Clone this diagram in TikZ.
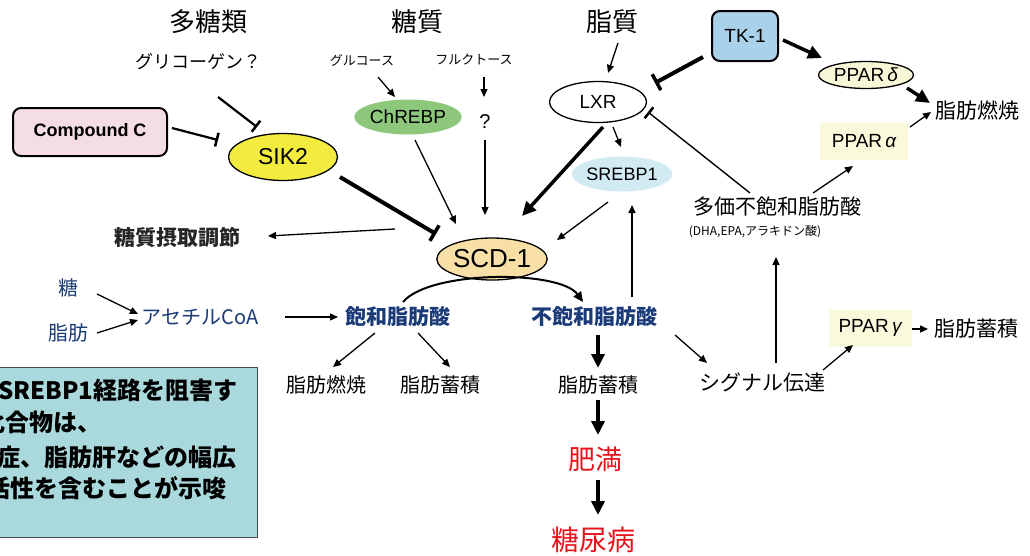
\documentclass[tikz,border=0pt]{standalone}
\usepackage{fontspec}
\setmainfont{Noto Sans CJK JP}
\newfontfamily\arial{Liberation Sans}
\usetikzlibrary{arrows.meta,shapes.geometric,calc}
\newcommand\fz[1]{\fontsize{#1}{#1}\selectfont}
\definecolor{navy}{HTML}{1A3A78}
\definecolor{redtxt}{HTML}{E8141C}
\definecolor{pinkfill}{HTML}{F4DDE6}
\definecolor{sikfill}{HTML}{F3EC3E}
\definecolor{chfill}{HTML}{8CC77C}
\definecolor{srfill}{HTML}{D2EBF3}
\definecolor{tkfill}{HTML}{A9D1EA}
\definecolor{ppfill}{HTML}{F7F6D6}
\definecolor{hlfill}{HTML}{FBF9DC}
\definecolor{scdfill}{HTML}{F8DFA6}
\definecolor{boxfill}{HTML}{A9D9DC}
\begin{document}
\begin{tikzpicture}[x=1pt,y=-1pt,
  lab/.style={inner sep=0pt},
  blue/.style={inner sep=0pt,text=navy},
  ell/.style={ellipse,inner sep=0pt,draw=black,line width=1.3pt},
  ar/.style={-{Triangle[length=8pt,width=7pt]},line width=1.3pt},
  mar/.style={-{Triangle[length=10pt,width=9pt]},line width=2pt},
  tar/.style={-{Triangle[length=14pt,width=13pt]},line width=3.5pt},
  inh/.style={-{Bar[width=14pt,line width=2.5pt]},line width=2.2pt},
  tinh/.style={-{Bar[width=18pt,line width=3.5pt]},line width=4pt}]
\useasboundingbox (0,0) rectangle (1030,555);
\fill[white] (0,0) rectangle (1030,555);

% bottom-left box
\begin{scope}
\clip (0,0) rectangle (1030,555);
\draw[fill=boxfill,draw=black!70,line width=1pt] (-10,367) rectangle (257,537);
\node[lab,anchor=west,font=\fz{24}\bfseries] (b1) at (-2,390) {SREBP1経路を阻害す};
\node[lab,anchor=west,font=\fz{24}\bfseries] (b2) at (-19,422) {化合物は、};
\node[lab,anchor=west,font=\fz{24}\bfseries] (b3) at (-4,457) {症、脂肪肝などの幅広};
\node[lab,anchor=west,font=\fz{24}\bfseries] (b4) at (-14,488) {活性を含むことが示唆};
\end{scope}

% nodes
\node[lab,font=\fz{26}] (polys) at (208,22) {多糖類};
\node[lab,font=\fz{18}] (glyc) at (198,62) {グリコーゲン？};
\node[draw=black,line width=2pt,rounded corners=8pt,fill=pinkfill,minimum width=154pt,minimum height=48pt,inner sep=0pt,font=\arial\bfseries\fz{18}] (cpd) at (90,132) {Compound C};
\node[ell,fill=sikfill,minimum width=109pt,minimum height=47pt,font=\arial\fz{23}] (sik2) at (283,157) {SIK2};
\node[lab,font=\fz{26}] (sugar) at (417,22) {糖質};
\node[lab,font=\fz{13}] (glu) at (362,60) {グルコース};
\node[lab,font=\fz{13}] (fru) at (474,60) {フルクトース};
\node[ellipse,inner sep=0pt,fill=chfill,minimum width=95pt,minimum height=35pt,font=\arial\fz{19}] (chrebp) at (408,117) {ChREBP};
\node[lab,font=\arial\fz{20}] (q) at (485,122) {?};
\node[lab,font=\fz{26}] (lipid) at (612,22) {脂質};
\node[ell,fill=white,minimum width=97pt,minimum height=41pt,font=\arial\fz{19}] (lxr) at (598,102) {LXR};
\node[ellipse,inner sep=0pt,fill=srfill,minimum width=90pt,minimum height=35pt,font=\arial\fz{18}] (srebp) at (622,174) {SREBP1};
\node[draw=black,line width=2pt,rounded corners=8pt,fill=tkfill,minimum width=66pt,minimum height=50pt,inner sep=0pt,font=\arial\fz{19}] (tk1) at (745,36) {TK-1};
\node[ell,fill=ppfill,minimum width=95pt,minimum height=27pt,font=\arial\fz{19}] (ppard) at (866,75) {PPAR\,{\itshape δ}};
\node[lab,font=\fz{21}] (burn1) at (977,110) {脂肪燃焼};
\node[fill=hlfill,inner sep=0pt,minimum width=88pt,minimum height=37pt,font=\arial\fz{19}] (ppara) at (864,141) {PPAR\,{\itshape α}};
\node[lab,font=\fz{21}] (pufa) at (777,207) {多価不飽和脂肪酸};
\node[lab,font=\fz{12}] (pufa2) at (755,232) {(DHA,EPA,アラキドン酸)};
\node[lab,font=\fz{21}\bfseries,text=black!85] (tsc) at (177,237) {糖質摂取調節};
\node[ell,fill=scdfill,minimum width=109pt,minimum height=42pt,font=\arial\fz{26}] (scd) at (492,259) {SCD-1};
\node[blue,font=\fz{20}] (sug) at (68,288) {糖};
\node[blue,font=\fz{20}] (fat) at (68,333) {脂肪};
\node[blue,font=\fz{20}] (acoa) at (200,317) {アセチルCoA};
\node[blue,font=\fz{21}\bfseries] (sfa) at (398,317) {飽和脂肪酸};
\node[blue,font=\fz{21}\bfseries] (ufa) at (594,317) {不飽和脂肪酸};
\node[lab,font=\fz{20}] (burn2) at (326,385) {脂肪燃焼};
\node[lab,font=\fz{20}] (store1) at (440,385) {脂肪蓄積};
\node[lab,font=\fz{20}] (store2) at (598,385) {脂肪蓄積};
\node[lab,font=\fz{21}] (sig) at (762,383) {シグナル伝達};
\node[fill=hlfill,inner sep=0pt,minimum width=83pt,minimum height=37pt,font=\arial\fz{19}] (pparg) at (870,328) {PPAR\,{\itshape γ}};
\node[lab,font=\fz{21}] (store3) at (976,329) {脂肪蓄積};
\node[lab,font=\fz{27},text=redtxt] (obes) at (595,459) {肥満};
\node[lab,font=\fz{28},text=redtxt] (diab) at (593,540) {糖尿病};

% connectors
\draw[inh] ([shift={(20,35)}]glyc.center) -- ([shift={(-26,-30)}]sik2.center);
\draw[inh] ([shift={(82,-4)}]cpd.center) -- ([shift={(-65,-17)}]sik2.center);
\draw[ar] ([shift={(16,17)}]glu.center) -- ([shift={(-13,-20)}]chrebp.center);
\draw[ar] ([shift={(10,17)}]fru.center) -- ([shift={(-1,-25)}]q.center);
\draw[ar] ([shift={(6,21)}]lipid.center) -- ([shift={(10,-29)}]lxr.center);
\draw[ar] ([shift={(15,25)}]lxr.center) -- ([shift={(-1,-27)}]srebp.center);
\draw[tinh] ([shift={(-42,21)}]tk1.center) -- ([shift={(57,-19)}]lxr.center);
\draw[tar] ([shift={(38,4)}]tk1.center) -- ([shift={(-44,-17)}]ppard.center);
\draw[tar] ([shift={(41,13)}]ppard.center) -- ([shift={(-47,-7)}]burn1.center);
\draw[ar] ([shift={(46,-14)}]ppara.center) -- ([shift={(-46,2)}]burn1.center);
\draw[ar] ([shift={(36,-14)}]pufa.center) -- ([shift={(-11,25)}]ppara.center);
\draw[inh,line width=1.4pt] ([shift={(-27,-14)}]pufa.center) -- ([shift={(50,10)}]lxr.center);
\draw[tinh] ([shift={(57,20)}]sik2.center) -- ([shift={(-56,-25)}]scd.center);
\draw[ar] ([shift={(7,23)}]chrebp.center) -- ([shift={(-36,-35)}]scd.center);
\draw[ar] ([shift={(0,18)}]q.center) -- ([shift={(-7,-44)}]scd.center);
\draw[tar] ([shift={(5,25)}]lxr.center) -- ([shift={(30,-43)}]scd.center);
\draw[ar] ([shift={(-14,28)}]srebp.center) -- ([shift={(65,-19)}]scd.center);
\draw[ar] ([shift={(-97,-30)}]scd.center) -- ([shift={(91,-1)}]tsc.center);
\draw[ar] ([shift={(29,6)}]sug.center) -- ([shift={(-62,-3)}]acoa.center);
\draw[ar] ([shift={(29,0)}]fat.center) -- ([shift={(-62,3)}]acoa.center);
\draw[ar] ([shift={(85,0)}]acoa.center) -- ([shift={(-60,0)}]sfa.center);
\draw[mar] ([shift={(5,-15)}]sfa.center) .. controls (430,270) and (560,270) .. ([shift={(-11,-15)}]ufa.center);
\draw[ar] ([shift={(-23,16)}]sfa.center) -- ([shift={(7,-18)}]burn2.center);
\draw[ar] ([shift={(20,16)}]sfa.center) -- ([shift={(10,-18)}]store1.center);
\draw[ar] ([shift={(38,-20)}]ufa.center) -- ([shift={(10,31)}]srebp.center);
\draw[tar] ([shift={(4,18)}]ufa.center) -- ([shift={(0,-17)}]store2.center);
\draw[ar] ([shift={(81,18)}]ufa.center) -- ([shift={(-55,-20)}]sig.center);
\draw[ar] ([shift={(14,-20)}]sig.center) -- ([shift={(21,25)}]pufa2.center);
\draw[ar] ([shift={(61,-13)}]sig.center) -- ([shift={(-17,17)}]pparg.center);
\draw[ar] ([shift={(42,1)}]pparg.center) -- ([shift={(-48,0)}]store3.center);
\draw[tar] ([shift={(0,15)}]store2.center) -- ([shift={(3,-24)}]obes.center);
\draw[tar] ([shift={(3,21)}]obes.center) -- ([shift={(5,-25)}]diab.center);
\end{tikzpicture}
\end{document}
